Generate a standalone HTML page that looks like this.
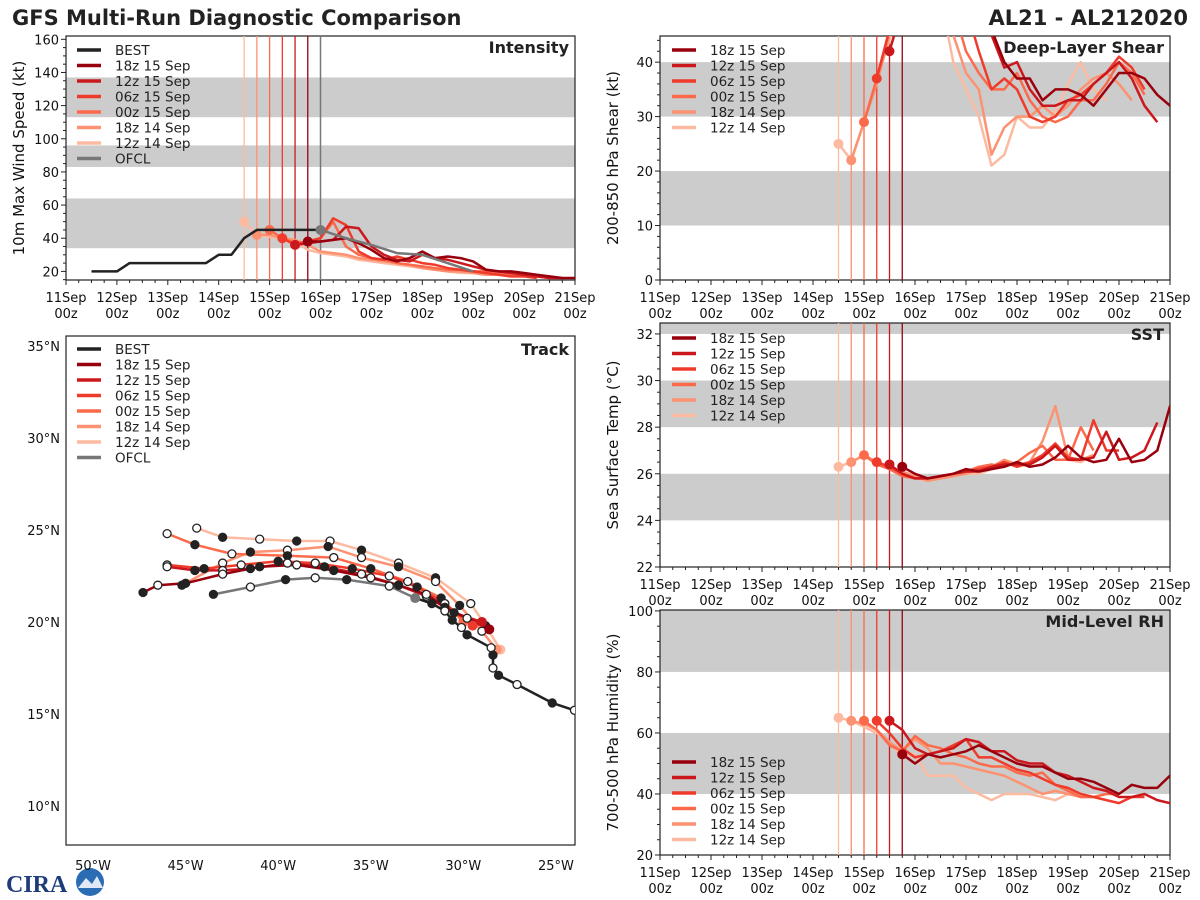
<!DOCTYPE html>
<html><head><meta charset="utf-8">
<style>
html,body{margin:0;padding:0;background:#fff;}
svg{display:block;font-family:"DejaVu Sans","Liberation Sans",sans-serif;}
</style></head>
<body>
<svg id="fig" width="1200" height="900" viewBox="0 0 1200 900" xmlns="http://www.w3.org/2000/svg">
<text x="12" y="25" font-size="21" font-weight="bold" fill="#222">GFS Multi-Run Diagnostic Comparison</text>
<text x="1188" y="25" font-size="21" font-weight="bold" fill="#222" text-anchor="end">AL21 - AL212020</text>
<g>
<text x="6" y="892" font-size="24" font-weight="bold" fill="#1f3c7a" font-family="Liberation Serif,serif">CIRA</text>
<circle cx="90" cy="882" r="14" fill="#2a6db5"/>
<path d="M78 888 L86 878 L92 884 L97 876 L103 888 Z" fill="#dfe8f4"/>
</g>
</svg>
<script>
const NS="http://www.w3.org/2000/svg";
const svg=document.getElementById('fig');
function el(tag,attrs,parent){const e=document.createElementNS(NS,tag);for(const k in attrs)e.setAttribute(k,attrs[k]);(parent||svg).appendChild(e);return e;}

// ---------------- DATA ----------------
const runNames=["18z 15 Sep","12z 15 Sep","06z 15 Sep","00z 15 Sep","18z 14 Sep","12z 14 Sep"];
const runColors=["#99000d","#cb181d","#ef3b2c","#fb6a4a","#fc9272","#fcbba1"];
const runInit=[15.75,15.5,15.25,15.0,14.75,14.5];
const dayLabels=["11Sep","12Sep","13Sep","14Sep","15Sep","16Sep","17Sep","18Sep","19Sep","20Sep","21Sep"];

const bestStart=11.5;
const bestVmax=[20,20,20,25,25,25,25,25,25,25,30,30,40,45,45,45,45,45,45];
const ofclTimes=[16.0,16.5,17.0,17.5,18.0,19.0];
const ofclVmax=[45,40,36,31,30,20];
const intRuns=[
 [38,38,39,40,37,33,28,26,28,32,28,29,28,26,21,20,20,19,18,17,16,16,15,15,17],
 [36,37,38,39,47,46,35,30,27,26,30,28,27,25,23,21,20,19,18,17,16,16],
 [40,36,38,40,52,48,32,28,27,29,27,25,24,22,21,20,19,18,17,17,16],
 [45,40,37,38,40,50,35,30,28,27,25,24,23,22,21,21,20,20,19,18,17,17,16],
 [42,42,40,39,36,32,31,30,28,27,26,25,24,22,21,20,20,19,18,18,17,17],
 [50,42,41,40,38,33,31,30,29,27,26,25,24,23,22,21,20,19,19,18,18,17]
];
const shearRuns=[
 [50,60,62,60,58,55,52,46,40,37,37,33,35,35,34,32,35,38,38,37,34,32],
 [42,50,60,62,60,58,55,52,45,39,40,35,32,32,33,33,36,38,40,37,32,29],
 [37,46,55,60,60,58,55,50,42,35,37,35,30,29,30,33,34,36,38,41,39,35],
 [29,37,46,55,60,58,55,50,42,38,35,35,38,33,30,29,30,33,33,36,40,38,34],
 [22,29,36,45,55,58,55,50,45,38,35,23,28,30,30,32,30,32,35,37,38,36,33],
 [25,22,29,37,44,55,60,60,52,40,35,30,21,23,30,28,28,31,36,40,35,33]
];
const sstRuns=[
 [26.3,26.0,25.8,25.9,26.0,26.2,26.1,26.2,26.3,26.5,26.3,26.4,26.7,27.2,26.7,26.5,26.6,27.5,26.5,26.6,27.0,28.9,27.0],
 [26.4,26.0,25.8,25.8,25.9,26.0,26.1,26.1,26.3,26.4,26.4,26.4,26.7,27.2,26.6,26.6,26.7,27.8,26.6,26.7,27.0,28.2],
 [26.5,26.3,26.0,25.8,25.8,25.9,26.0,26.1,26.2,26.3,26.5,26.3,26.5,26.8,27.3,26.7,26.6,28.3,27.0,27.0],
 [26.8,26.4,26.2,25.9,25.8,25.8,25.9,26.0,26.1,26.3,26.4,26.3,26.5,26.9,27.2,26.6,26.6,28.0,27.0],
 [26.5,26.8,26.5,26.3,26.1,25.9,25.7,25.8,25.9,26.0,26.2,26.3,26.6,26.4,26.5,27.4,28.9,26.7,26.6,26.8],
 [26.3,26.5,26.8,26.5,26.2,26.0,25.8,25.7,25.8,25.9,26.0,26.0,26.2,26.5,26.3,26.4,26.7,27.2,26.6,26.5,26.8]
];
const rhRuns=[
 [53,50,53,52,53,54,56,54,52,50,49,49,47,45,45,44,42,40,43,42,42,46],
 [64,61,55,53,54,55,58,57,54,54,51,50,50,47,46,44,42,41,39,39,40,38,37],
 [64,60,55,52,53,54,56,58,52,52,50,48,47,45,43,42,40,39,38,37,39,39],
 [64,61,56,54,59,56,55,53,52,50,49,49,47,46,47,43,41,39,39,40,40],
 [64,63,61,57,54,58,55,50,50,49,48,47,46,44,42,40,41,40,39,39],
 [65,64,62,60,57,52,53,46,46,46,42,40,38,40,40,40,39,38,40]
];
const bestTrackLon=[-32.6,-31.7,-31.0,-30.6,-30.1,-29.8,-28.5,-28.4,-28.4,-28.1,-27.1,-25.2,-24.0];
const bestTrackLat=[21.3,21.0,20.6,20.1,19.7,19.3,18.6,18.2,17.5,17.1,16.6,15.6,15.2];
const ofclTrackLon=[-32.6,-34.0,-36.3,-38.0,-39.6,-41.5,-43.5];
const ofclTrackLat=[21.3,21.95,22.3,22.4,22.3,21.9,21.5];
const trackLon=[
 [-28.6,-29.8,-31.0,-32.0,-33.5,-35.0,-37.0,-39.0,-41.0,-43.0,-45.0,-46.5,-47.3],
 [-29.0,-30.5,-32.0,-33.5,-35.5,-37.5,-39.5,-41.5,-43.0,-44.5,-46.0],
 [-29.5,-31.0,-32.5,-34.0,-36.0,-38.0,-40.0,-42.0,-44.0,-46.0],
 [-30.0,-31.2,-33.0,-35.0,-37.0,-39.5,-42.5,-44.5,-46.0],
 [-28.2,-29.0,-30.2,-31.5,-33.5,-35.5,-37.3,-39.5,-41.5,-43.0,-45.2],
 [-28.0,-28.8,-29.6,-31.5,-33.5,-35.5,-37.2,-39.0,-41.0,-43.0,-44.4]
];
const trackLat=[
 [19.6,20.2,20.8,21.5,22.0,22.4,22.8,23.1,23.0,22.6,22.1,22.0,21.6],
 [20.0,20.5,21.4,22.0,22.6,23.0,23.2,22.9,22.8,22.8,23.0],
 [19.8,21.0,21.9,22.5,22.9,23.2,23.3,23.1,22.9,23.1],
 [20.0,21.3,22.2,22.9,23.5,23.6,23.7,24.2,24.8],
 [18.5,19.5,20.9,22.2,23.0,23.5,24.1,23.9,23.8,23.2,22.0],
 [18.5,19.8,21.0,22.4,23.2,23.9,24.4,24.4,24.5,24.6,25.1]
];

// --------------- PANEL HELPERS ---------------
function mkPanel(name,x0,y0,w,h,ymin,ymax,bands,majors,minorStep,ytitle,title,withTime){
  const g=el('g',{});
  
  
  const sx=t=>x0+(t-11)/10*w;
  const sy=v=>y0+h-(v-ymin)/(ymax-ymin)*h;
  bands.forEach(b=>{
    const t=Math.min(sy(b[1]),y0+h), btm=Math.max(sy(b[0]),y0);
    const r=el('rect',{x:x0,y:Math.max(t,y0),width:w,height:Math.min(y0+h,btm)-Math.max(t,y0),fill:'#cccccc'},g);
    
    
  });
  const frame=el('rect',{x:x0,y:y0,width:w,height:h,fill:'none',stroke:'#222','stroke-width':1.2},g);
  
  
  for(let v=Math.ceil(ymin/minorStep)*minorStep;v<=ymax+1e-9;v+=minorStep){
    const y=sy(v);const maj=majors.some(m=>Math.abs(m-v)<1e-6);
    el('line',{x1:x0-(maj?5:3),x2:x0,y1:y,y2:y,stroke:'#222','stroke-width':1},g);
  }
  majors.forEach(m=>{
    const t=el('text',{x:x0-7,y:sy(m)+5,'font-size':13,'text-anchor':'end',fill:'#111'},g);
    t.textContent=m;
    
    
  });
  const yt=el('text',{x:0,y:0,'font-size':15,'text-anchor':'middle',fill:'#111',transform:`translate(${x0-42},${y0+h/2}) rotate(-90)`},g);
  yt.textContent=ytitle;
  
  
  const tt=el('text',{x:x0+w-6,y:y0+17,'font-size':16,'font-weight':'bold','text-anchor':'end',fill:'#222'},g);
  tt.textContent=title;
  
  
  if(withTime){
    for(let t=11;t<=21.001;t+=0.25){
      const x=sx(t);const maj=Math.abs(t-Math.round(t))<1e-6;
      el('line',{x1:x,x2:x,y1:y0+h,y2:y0+h+(maj?5:3),stroke:'#222','stroke-width':1},g);
    }
    dayLabels.forEach((d,i)=>{
      const x=sx(11+i);
      const a=el('text',{x:x,y:y0+h+22,'font-size':13,'text-anchor':'middle',fill:'#111'},g);a.textContent=d;
      
      
      const b=el('text',{x:x,y:y0+h+38,'font-size':13,'text-anchor':'middle',fill:'#111'},g);b.textContent='00z';
      
      
    });
  }
  const clipId='clip-'+name;
  const cp=el('clipPath',{id:clipId},g);el('rect',{x:x0,y:y0,width:w,height:h},cp);
  const plot=el('g',{'clip-path':`url(#${clipId})`},g);
  return {g,plot,sx,sy,x0,y0,w,h};
}
function line(p,times,vals,color,width,name){
  const pts=vals.map((v,i)=>p.sx(times[i]).toFixed(1)+','+p.sy(v).toFixed(1)).join(' ');
  const pl=el('polyline',{points:pts,fill:'none',stroke:color,'stroke-width':width,'stroke-linejoin':'round'},p.plot);
  
  
  return pl;
}
function dot(p,t,v,color,name){
  const c=el('circle',{cx:p.sx(t),cy:p.sy(v),r:5,fill:color},p.plot);
  
  
}
function legend(x,y,entries,colors,parent){
  const g=el('g',{},parent);
  
  
  entries.forEach((e,i)=>{
    const yy=y+i*15.5;
    el('line',{x1:x,x2:x+24,y1:yy,y2:yy,stroke:colors[i],'stroke-width':3.5},g);
    const t=el('text',{x:x+38,y:yy+5,'font-size':13.5,fill:'#222'},g);t.textContent=e;
    
    
  });
}
function vlines(p,withOfcl){
  runInit.forEach((t,i)=>{
    const l=el('line',{x1:p.sx(t),x2:p.sx(t),y1:p.y0,y2:p.y0+p.h,stroke:runColors[i],'stroke-width':1.3},p.plot);
    
    
  });
  if(withOfcl){
    const l=el('line',{x1:p.sx(16),x2:p.sx(16),y1:p.y0,y2:p.y0+p.h,stroke:'#777','stroke-width':1.5},p.plot);
    
    
  }
}
function drawRuns(p,runs,prefix){
  for(let i=runs.length-1;i>=0;i--){
    const times=runs[i].map((_,k)=>runInit[i]+0.25*k);
    line(p,times,runs[i],runColors[i],2.5,prefix+'-line-'+runNames[i].replace(/ /g,'-'));
  }
  for(let i=runs.length-1;i>=0;i--) dot(p,runInit[i],runs[i][0],runColors[i],prefix+'-init-dot');
}

const pI=mkPanel('intensity',66,36,509,244,14.8,162,[[34,64],[83,96],[113,137]],[20,40,60,80,100,120,140,160],5,'10m Max Wind Speed (kt)','Intensity',true);
vlines(pI,true);
drawRuns(pI,intRuns,'intensity');
line(pI,bestVmax.map((_,k)=>bestStart+0.25*k),bestVmax,'#222',2.5,'best-intensity-line');
line(pI,ofclTimes,ofclVmax,'#777',2.5,'ofcl-intensity-line');
dot(pI,16,45,'#777','ofcl-init-dot');
legend(77,50,['BEST'].concat(runNames,['OFCL']),['#222'].concat(runColors,['#777']),pI.g);

const pS=mkPanel('shear',660,36,510,244,0,44.8,[[10,20],[30,40]],[0,10,20,30,40],2,'200-850 hPa Shear (kt)','Deep-Layer Shear',true);
vlines(pS,false);
drawRuns(pS,shearRuns,'shear');
legend(672,50,runNames,runColors,pS.g);

const pT=mkPanel('sst',660,323,510,244,22,32.47,[[24,26],[28,30],[32,33]],[22,24,26,28,30,32],0.5,'Sea Surface Temp (°C)','SST',true);
vlines(pT,false);
drawRuns(pT,sstRuns,'sst');
legend(672,338,runNames,runColors,pT.g);

const pR=mkPanel('rh',660,610,510,245,20,100.3,[[40,60],[80,100.3]],[20,40,60,80,100],5,'700-500 hPa Humidity (%)','Mid-Level RH',true);
vlines(pR,false);
drawRuns(pR,rhRuns,'rh');
legend(672,762,runNames,runColors,pR.g);

(function(){
  const x0=66,y0=336,w=509,h=509;
  const lonMin=-51.46,lonMax=-23.97,latMin=7.88,latMax=35.54;
  const sx=lon=>x0+(lon-lonMin)/(lonMax-lonMin)*w;
  const sy=lat=>y0+h-(lat-latMin)/(latMax-latMin)*h;
  const g=el('g',{});
  
  
  const fr=el('rect',{x:x0,y:y0,width:w,height:h,fill:'#fff',stroke:'#222','stroke-width':1.2},g);
  
  
  [10,15,20,25,30,35].forEach(l=>{
    const t=el('text',{x:x0-6,y:sy(l)+5,'font-size':13,'text-anchor':'end',fill:'#111'},g);t.textContent=l+'°N';
    
    
  });
  [50,45,40,35,30,25].forEach(l=>{
    const t=el('text',{x:sx(-l),y:870,'font-size':13,'text-anchor':'middle',fill:'#111'},g);t.textContent=l+'°W';
    
    
  });
  const tt=el('text',{x:x0+w-6,y:y0+19,'font-size':16,'font-weight':'bold','text-anchor':'end',fill:'#222'},g);tt.textContent='Track';
  
  
  const cp=el('clipPath',{id:'clip-track'},g);el('rect',{x:x0,y:y0,width:w,height:h},cp);
  const plot=el('g',{'clip-path':'url(#clip-track)'},g);
  function tr(lons,lats,color,name){
    const pts=lons.map((v,i)=>sx(v).toFixed(1)+','+sy(lats[i]).toFixed(1)).join(' ');
    const pl=el('polyline',{points:pts,fill:'none',stroke:color,'stroke-width':2.5,'stroke-linejoin':'round'},plot);
    
    
  }
  function marks(lons,lats,start){
    lons.forEach((v,i)=>{
      if(i===0)return;
      const filled=((i+start)%2===0);
      const c=el('circle',{cx:sx(v),cy:sy(lats[i]),r:4,fill:filled?'#222':'#fff',stroke:'#222','stroke-width':1.3},plot);
      
      
    });
  }
  for(let i=5;i>=0;i--) tr(trackLon[i],trackLat[i],runColors[i],'track-'+runNames[i].replace(/ /g,'-'));
  tr(ofclTrackLon,ofclTrackLat,'#777','ofcl-track');
  tr(bestTrackLon,bestTrackLat,'#222','best-track');
  for(let i=5;i>=0;i--){
    marks(trackLon[i],trackLat[i],i%2);
    const c=el('circle',{cx:sx(trackLon[i][0]),cy:sy(trackLat[i][0]),r:5,fill:runColors[i]},plot);
    
    
  }
  marks(ofclTrackLon,ofclTrackLat,0);
  marks(bestTrackLon,bestTrackLat,1);
  const oc=el('circle',{cx:sx(-32.6),cy:sy(21.3),r:5,fill:'#777'},plot);
  
  
  legend(77,349,['BEST'].concat(runNames,['OFCL']),['#222'].concat(runColors,['#777']),g);
})();
</script>
</body></html>
